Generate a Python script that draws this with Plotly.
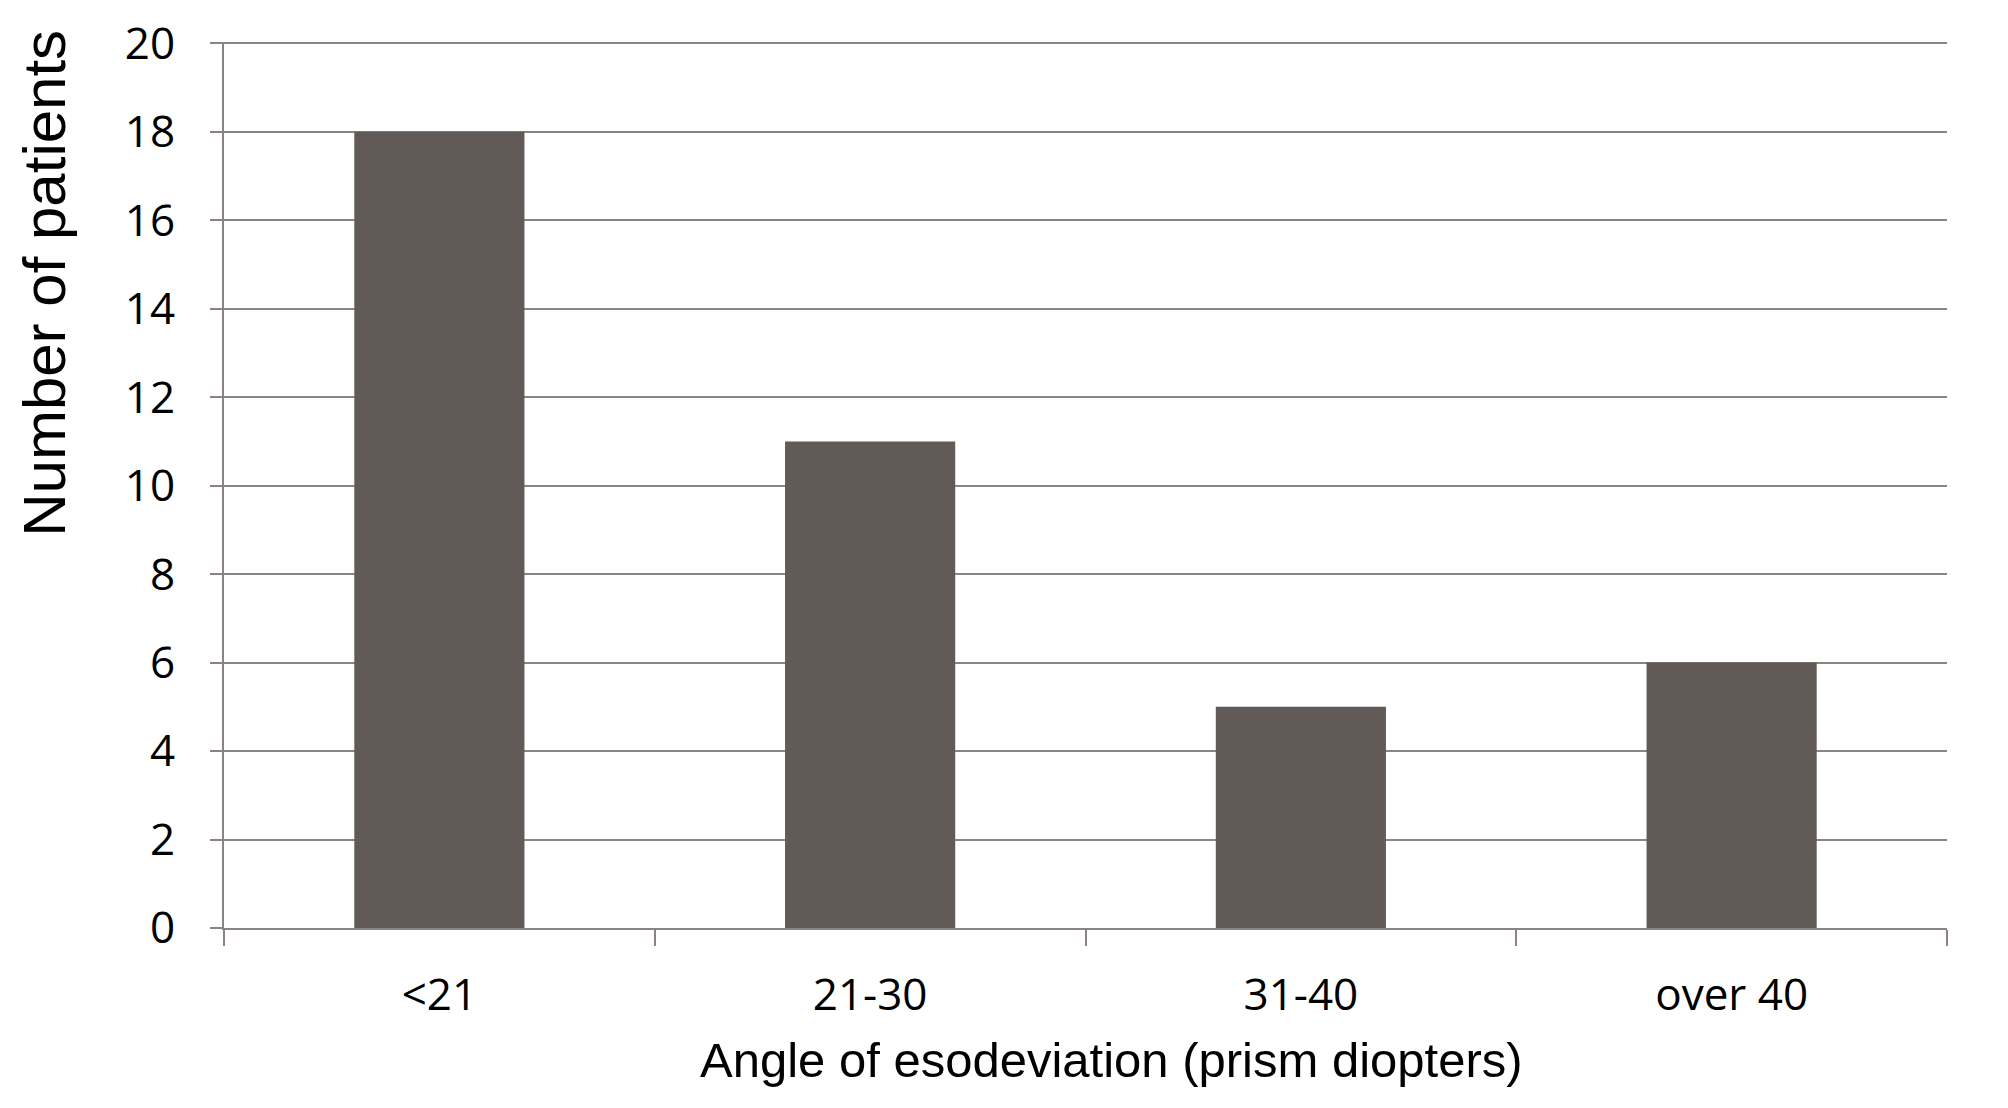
import plotly.graph_objects as go

categories = ["<21", "21-30", "31-40", "over 40"]
patients = [18, 11, 5, 6]
y_ticks = list(range(0, 21, 2))

bar_color = "#625a57"
line_color = "#8c8484"

fig = go.Figure()
fig.add_trace(
    go.Bar(
        x=categories,
        y=patients,
        marker={"color": bar_color, "line": {"width": 0}},
        width=0.395,
    )
)

# page body adds an 8px margin, so the figure is a bit smaller than the window
fig.update_layout(
    width=1992,
    height=1092,
    margin={"l": 216, "r": 53, "t": 34, "b": 172},
    plot_bgcolor="white",
    paper_bgcolor="white",
    showlegend=False,
    font={"family": "Open Sans", "color": "black"},
)
fig.update_xaxes(
    type="category",
    automargin=False,
    tickson="boundaries",
    ticks="outside",
    ticklen=16,
    tickwidth=2,
    tickcolor=line_color,
    ticklabelstandoff=27,
    showline=True,
    linecolor=line_color,
    linewidth=2,
    showgrid=False,
    tickfont={"family": "Open Sans", "size": 44},
)
fig.update_yaxes(
    range=[0, 20.03],
    automargin=False,
    tickvals=y_ticks,
    ticks="outside",
    ticklen=12,
    tickwidth=2,
    tickcolor=line_color,
    ticklabelstandoff=26,
    showline=True,
    linecolor=line_color,
    linewidth=2,
    showgrid=True,
    gridcolor=line_color,
    gridwidth=2,
    zeroline=False,
    tickfont={"family": "Open Sans", "size": 44},
)
# axis titles are off-centre in the original, so place them by hand
fig.add_annotation(
    text="Angle of esodeviation (prism diopters)",
    xref="paper",
    yref="paper",
    x=0.515,
    y=-0.149,
    xanchor="center",
    yanchor="middle",
    showarrow=False,
    font={"family": "Liberation Sans", "size": 49, "color": "black"},
)
fig.add_annotation(
    text="Number of patients",
    textangle=-90,
    xref="paper",
    yref="paper",
    x=-0.104,
    y=0.728,
    xanchor="center",
    yanchor="middle",
    showarrow=False,
    font={"family": "Liberation Sans", "size": 60, "color": "black"},
)

fig.write_html("out.html")
